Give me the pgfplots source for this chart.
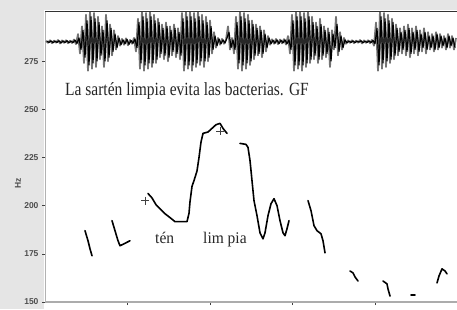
\documentclass[border=0pt]{standalone}
\usepackage{fontspec}
\setmainfont{Liberation Serif}
\setsansfont{Liberation Sans}
\usepackage{pgfplots}
\pgfplotsset{compat=1.18}
\usetikzlibrary{calc}
\pgfdeclarelayer{background}
\pgfsetlayers{background,main}
\begin{document}
\begin{tikzpicture}[x=1pt,y=1pt]
\begin{axis}[name=ax, scale only axis,
  width=412pt, height=291pt,
  xmin=45, xmax=457, ymin=150, ymax=301,
  xtick={127.5,210,292.5,375}, xticklabels={},
  ytick={150,175,200,225,250,275},
  axis x line*=bottom, axis y line*=left,
  x axis line style={gray!65, line width=1.5pt, -},
  y axis line style={gray!60, line width=0.8pt, -},
  tick align=outside, major tick length=3pt,
  tick style={gray!50!black, line width=0.6pt},
  every tick label/.append style={font=\sffamily\bfseries\fontsize{8.5}{10}\selectfont, text=black!70},
  /pgf/number format/assume math mode=true,
  clip=true,
  cnt/.style={black, line width=1.6pt, line join=round, line cap=round},
]
\addplot[black!55, line width=1.8pt, line join=round] coordinates {
(46,285.5)(48,284.5)(50,285.8)(52,284.3)(54,285.6)(56,284.6)(58,285.9)(60,284.2)(62,285.7)(64,284.5)
(66,285.8)(68,284.3)(70,285.6)(72,284.4)(74,286.2)(76,283.8)(78,289)(80,279)(82,293)(84,274)
(86,299)(88,270)(90,301)(92,271)(94,300)(96,272)(98,298)(100,276)(102,293)(104,272)
(106,299)(108,275)(110,294)(112,278)(114,291)(116,281)(118,288)(120,283)(122,286.5)(124,283.5)
(126,286.8)(128,283.2)(130,286)(132,284)(134,287)(136,280)(138,297)(140,271)(142,301)(144,270)
(146,300)(148,271)(150,301)(152,272)(154,299)(156,274)(158,297)(160,277)(162,294)(164,276)
(166,295)(168,275)(170,293)(172,278)(174,294)(176,277)(178,292)(180,276)(182,300)(184,270)
(186,301)(188,271)(190,301)(192,270)(194,300)(196,272)(198,301)(200,273)(202,299)(204,272)
(206,298)(208,275)(210,296)(212,279)(214,290)(216,282)(218,287)(220,283.5)(222,286.5)(224,284)
(226,286)(228,293)(230,281)(232,287)(234,279)(236,298)(238,271)(240,301)(242,270)(244,300)
(246,271)(248,299)(250,273)(252,296)(254,276)(256,294)(258,278)(260,293)(262,277)(264,291)
(266,280)(268,288)(270,283.5)(272,286.3)(274,284)(276,286.5)(278,283.8)(280,286.2)(282,284.2)(284,286.4)
(286,283.6)(288,288)(290,279)(292,299)(294,270)(296,301)(298,271)(300,301)(302,270)(304,300)
(306,272)(308,301)(310,274)(312,298)(314,276)(316,295)(318,274)(320,297)(322,276)(324,293)
(326,277)(328,292)(330,272)(332,291)(334,281)(336,298)(338,278)(340,290)(342,281)(344,287)
(346,284)(348,285.7)(350,284.5)(352,285.8)(354,284.3)(356,285.6)(358,284.6)(360,285.9)(362,284.2)(364,285.7)
(366,284.5)(368,285.8)(370,284.3)(372,286)(374,283)(376,295)(378,270)(380,301)(382,271)(384,300)
(386,272)(388,299)(390,274)(392,297)(394,276)(396,294)(398,278)(400,292)(402,279)(404,293)
(406,278)(408,294)(410,277)(412,292)(414,279)(416,293)(418,278)(420,291)(422,280)(424,292)
(426,279)(428,290)(430,281)(432,289)(434,280)(436,290)(438,281)(440,289)(442,282)(444,288)
(446,281)(448,289)(450,282)(452,288)(454,281)(456,287)
};
\addplot[black, line width=1.2pt, line join=round] coordinates {
(47,285.3)(49,284.7)(51,285.5)(53,284.5)(55,285.4)(57,284.7)(59,285.6)(61,284.4)(63,285.5)(65,284.6)
(67,285.6)(69,284.5)(71,285.4)(73,284.6)(75,285.9)(77,284.2)(79,287)(81,281)(83,291)(85,277)
(87,296)(89,273)(91,298)(93,274)(95,297)(97,275)(99,295)(101,278)(103,291)(105,275)
(107,296)(109,277)(111,292)(113,280)(115,289)(117,282)(119,287)(121,283.5)(123,286)(125,284)
(127,286.3)(129,283.7)(131,285.7)(133,284.3)(135,286.5)(137,282)(139,295)(141,274)(143,298)(145,273)
(147,297)(149,274)(151,298)(153,274)(155,296)(157,276)(159,295)(161,279)(163,292)(165,278)
(167,293)(169,277)(171,291)(173,280)(175,292)(177,279)(179,290)(181,278)(183,297)(185,273)
(187,298)(189,273)(191,298)(193,273)(195,297)(197,274)(199,298)(201,275)(203,296)(205,275)
(207,295)(209,277)(211,293)(213,281)(215,288)(217,283)(219,286.5)(221,284)(223,286)(225,284.4)
(227,287)(229,290)(231,282)(233,286)(235,281)(237,295)(239,274)(241,298)(243,273)(245,297)
(247,274)(249,296)(251,275)(253,294)(255,278)(257,292)(259,279)(261,291)(263,279)(265,289)
(267,282)(269,287)(271,284)(273,285.8)(275,284.3)(277,286)(279,284.1)(281,285.8)(283,284.5)(285,286)
(287,284)(289,286)(291,281)(293,296)(295,273)(297,298)(299,273)(301,298)(303,273)(305,297)
(307,274)(309,298)(311,276)(313,295)(315,278)(317,293)(319,276)(321,294)(323,278)(325,291)
(327,279)(329,290)(331,275)(333,289)(335,282)(337,294)(339,280)(341,288)(343,282)(345,286)
(347,284.5)(349,285.4)(351,284.7)(353,285.5)(355,284.6)(357,285.4)(359,284.8)(361,285.6)(363,284.5)(365,285.4)
(367,284.7)(369,285.5)(371,284.6)(373,285.7)(375,284)(377,292)(379,273)(381,298)(383,274)(385,297)
(387,275)(389,296)(391,276)(393,295)(395,278)(397,292)(399,280)(401,290)(403,281)(405,291)
(407,280)(409,292)(411,279)(413,290)(415,281)(417,291)(419,280)(421,289)(423,282)(425,290)
(427,281)(429,288)(431,282)(433,288)(435,281)(437,289)(439,282)(441,288)(443,283)(445,287)
(447,282)(449,288)(451,283)(453,287)(455,282)
};
\addplot[cnt] coordinates {(85,187.0)(88,181.8)(90,177.6)(92,174.0)};
\addplot[cnt] coordinates {(112,192.2)(115,187.0)(118,181.8)(120,179.2)(124,180.2)(130,181.8)};
\addplot[cnt] coordinates {(148,206.3)(152,204.0)(156,200.5)(160,198.4)(165,195.8)(170,193.8)(175,191.7)(187,191.7)(189,196)(190,202)(192,210)(194,213)(197,218)(199,225)(201,233)(203,237.5)(208,238.2)(212,240.1)(216,242)(220,242.7)(223,240.1)(227,237.5)};
\addplot[cnt] coordinates {(240,232.3)(246,231.8)(248,230.2)(250,223.4)(252,213.0)(254,202.6)(257,194.8)(260,185.9)(263,182.8)(265,185.9)(268,194.8)(271,201.0)(274,203.6)(277,200.0)(280,192.2)(283,185.9)(285,184.4)(287,188.0)(289,192.2)};
\addplot[cnt] coordinates {(308,202.6)(311,197.4)(314,189.6)(317,187.0)(321,185.4)(323,181.8)(325,175.5)};
\addplot[cnt] coordinates {(350,166.1)(353,165.1)(355,163.0)(358,160.9)};
\addplot[cnt] coordinates {(383,160.9)(387,159.4)(388,156.8)(390,153.1)};
\addplot[cnt] coordinates {(411,153.6)(415,153.6)};
\addplot[cnt] coordinates {(437,159.9)(439,163.5)(442,167.2)(445,166.1)(447,164.6)};
\addplot[only marks, mark=+, mark size=4pt, black!75, mark options={line width=0.6pt}] coordinates {(145,202.6)(220,238.5)};
\node[anchor=base west, inner sep=0pt, yscale=1.2, font=\fontsize{15.5}{16}\selectfont, text=black!85] at (axis cs:65,257.4) {La sartén limpia evita las bacterias. GF};
\node[anchor=base west, inner sep=0pt, yscale=1.05, font=\fontsize{15.5}{16}\selectfont, text=black!85] at (axis cs:155,180.5) {tén};
\node[anchor=base west, inner sep=0pt, yscale=1.05, font=\fontsize{15.5}{16}\selectfont, text=black!85] at (axis cs:203,180.5) {lim pia};
\coordinate (BL) at (rel axis cs:0,0);
\coordinate (TR) at (rel axis cs:1,1);
\end{axis}
\begin{pgfonlayer}{background}
\fill[gray!20] ($(BL)+(-45,-7)$) rectangle ($(TR)+(0,11)$);
\fill[white] ($(BL)+(-1,-7)$) rectangle ($(TR)+(0,1)$);
\end{pgfonlayer}
\draw[black!80, line width=1pt] (BL|-TR) -- (TR);
\node[rotate=90, font=\sffamily\bfseries\fontsize{8.5}{10}\selectfont, text=black!70] at ($(BL)+(-27,119)$) {Hz};
\pgfresetboundingbox
\path[use as bounding box] ($(BL)+(-45,-7)$) rectangle ($(TR)+(0,11)$);
\end{tikzpicture}
\end{document}
